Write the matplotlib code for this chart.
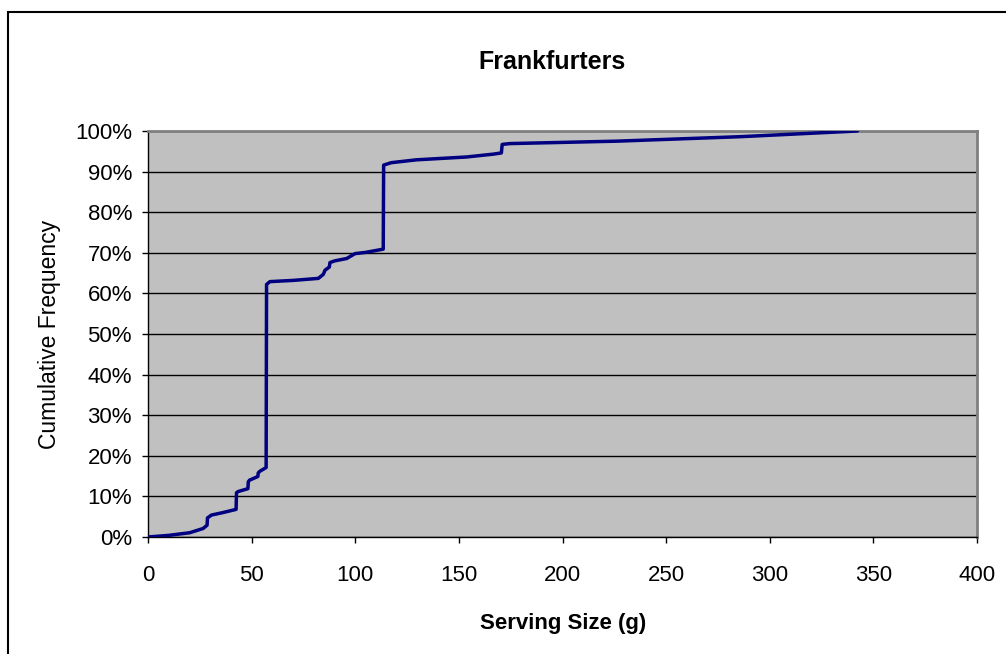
import matplotlib
matplotlib.use("Agg")
import matplotlib.pyplot as plt
from matplotlib.ticker import FuncFormatter
from matplotlib.patches import Rectangle

serving_g = [0, 10, 20.2, 26.6, 28.5, 28.7, 30.6, 36, 42.5, 42.7, 43.5, 48.2, 48.4, 49,
             53.0, 53.2, 54, 57.0, 57.2, 58.8, 70, 82.2, 84.6, 85.4, 87.5, 87.8, 90,
             95.9, 99.9, 105, 113.5, 113.7, 117.4, 129.5, 153.7, 166.6, 170.5, 170.9,
             174.6, 226.3, 285.9, 342.3]
cum_pct = [0, 0.4, 1.06, 2.1, 2.9, 4.7, 5.4, 6.0, 6.8, 10.9, 11.2, 11.9, 13.6, 14.0,
           14.9, 15.8, 16.2, 17.1, 62.2, 62.9, 63.2, 63.7, 64.7, 65.7, 66.5, 67.6, 68.0,
           68.6, 69.8, 70.1, 70.9, 91.6, 92.2, 92.9, 93.6, 94.3, 94.6, 96.7,
           96.9, 97.5, 98.6, 100]
x_ticks = [0, 50, 100, 150, 200, 250, 300, 350, 400]
y_ticks = [0, 10, 20, 30, 40, 50, 60, 70, 80, 90, 100]

plt.rcParams['font.family'] = ['Liberation Sans', 'DejaVu Sans']

W, H = 1006, 654
fig = plt.figure(figsize=(W / 100, H / 100), dpi=100)
fig.patch.set_facecolor('white')

# outer chart border (extends past image right/bottom)
fig.patches.append(Rectangle((8 / W, -0.1), 1.2, 1 - 12 / H + 0.1, transform=fig.transFigure,
                             fill=False, edgecolor='black', linewidth=1.5, zorder=0))

ax = fig.add_axes([148 / W, 1 - 537 / H, (977 - 148) / W, (537 - 131) / H])
ax.set_facecolor('#C0C0C0')
ax.set_xlim(0, 400)
ax.set_ylim(0, 100)
ax.set_xticks(x_ticks)
ax.set_yticks(y_ticks)
ax.yaxis.set_major_formatter(FuncFormatter(lambda v, p: f"{int(v)}%"))
ax.grid(axis='y', color='black', linewidth=1.0)
ax.set_axisbelow(True)
ax.tick_params(direction='out', length=4.5, width=1, color='black', labelsize=16, pad=7)
ax.tick_params(axis='x', pad=16)
for s in ax.spines.values():
    s.set_color('#808080')
    s.set_linewidth(2)
ax.spines['left'].set_color('black')
ax.spines['left'].set_linewidth(1)
ax.spines['bottom'].set_color('black')
ax.spines['bottom'].set_linewidth(1)

ax.plot(serving_g, cum_pct, color='#000080', linewidth=2.5, solid_joinstyle='round',
        solid_capstyle='round', zorder=3)

fig.text(552 / W, 1 - 62 / H, "Frankfurters", ha='center', va='center', fontsize=18, fontweight='bold')
fig.text(563 / W, 1 - 623 / H, "Serving Size (g)", ha='center', va='center', fontsize=16, fontweight='bold')
fig.text(50 / W, 1 - 334 / H, "Cumulative Frequency", ha='center', va='center', fontsize=16.5, rotation=90)

fig.savefig("out.png", dpi=100)
